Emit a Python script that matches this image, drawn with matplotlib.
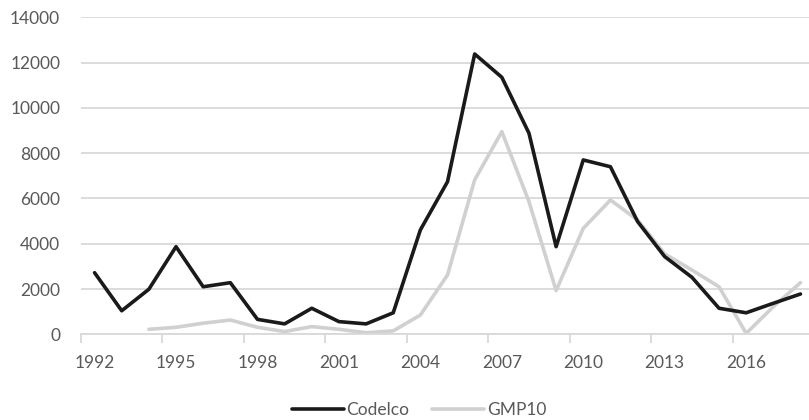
import matplotlib
matplotlib.use("Agg")
import matplotlib.pyplot as plt
from matplotlib.ticker import FixedLocator, NullFormatter, FixedFormatter

plt.rcParams['font.family'] = ['Lato', 'DejaVu Sans']

years = list(range(1992, 2019))
codelco = [2720, 1040, 1990, 3870, 2100, 2280, 660, 460, 1150, 560, 460, 950,
           4610, 6740, 12380, 11350, 8880, 3870, 7700, 7400, 4980, 3430, 2520,
           1150, 950, 1370, 1780]
gmp_years = list(range(1994, 2019))
gmp10 = [220, 310, 490, 630, 310, 120, 340, 220, 70, 150, 850, 2620, 6820,
         8950, 5860, 1930, 4680, 5930, 5050, 3550, 2840, 2100, 40, 1220, 2280]
y_ticks = list(range(0, 14001, 2000))
x_labels = [str(y) for y in range(1992, 2017, 3)]

txt = '#595959'
grid = '#d9d9d9'

fig = plt.figure(figsize=(8.09, 4.20), dpi=100)
unit = 27.15 / 809
ax = fig.add_axes([81 / 809, 1 - 334.3 / 420, 27 * unit, (334.3 - 17.3) / 420])

ax.plot(years, codelco, color='#1a1a1a', lw=2.6, solid_joinstyle='round',
        solid_capstyle='round', label='Codelco', zorder=3)
ax.plot(gmp_years, gmp10, color='#d0d0d0', lw=2.6, solid_joinstyle='round',
        solid_capstyle='round', label='GMP10', zorder=2)

ax.set_xlim(1991.5, 2018.5)
ax.set_ylim(0, 14000)
ax.set_yticks(y_ticks)
ax.set_yticklabels([str(v) for v in y_ticks])
ax.yaxis.grid(True, color=grid, lw=1.3)
ax.set_axisbelow(True)
for s in ['top', 'right', 'left']:
    ax.spines[s].set_visible(False)
ax.spines['bottom'].set_color(grid)
ax.spines['bottom'].set_linewidth(1.3)

ax.xaxis.set_major_locator(FixedLocator([1991.5 + 3 * k for k in range(10)]))
ax.xaxis.set_major_formatter(NullFormatter())
ax.xaxis.set_minor_locator(FixedLocator(list(range(1992, 2017, 3))))
ax.xaxis.set_minor_formatter(FixedFormatter(x_labels))
ax.tick_params(axis='x', which='major', length=6.5, width=1.3, color=grid)
ax.tick_params(axis='x', which='minor', length=0, pad=15, labelsize=12.5, labelcolor=txt)
ax.tick_params(axis='y', length=0, pad=15, labelsize=12.5, labelcolor=txt)

fig.legend(loc='center', bbox_to_anchor=(419 / 809, 1 - 410 / 420), ncol=2,
           frameon=False, fontsize=12.5, labelcolor=txt, handlelength=3.0,
           handletextpad=0.15, columnspacing=1.3)

fig.savefig('out.png', dpi=100)
